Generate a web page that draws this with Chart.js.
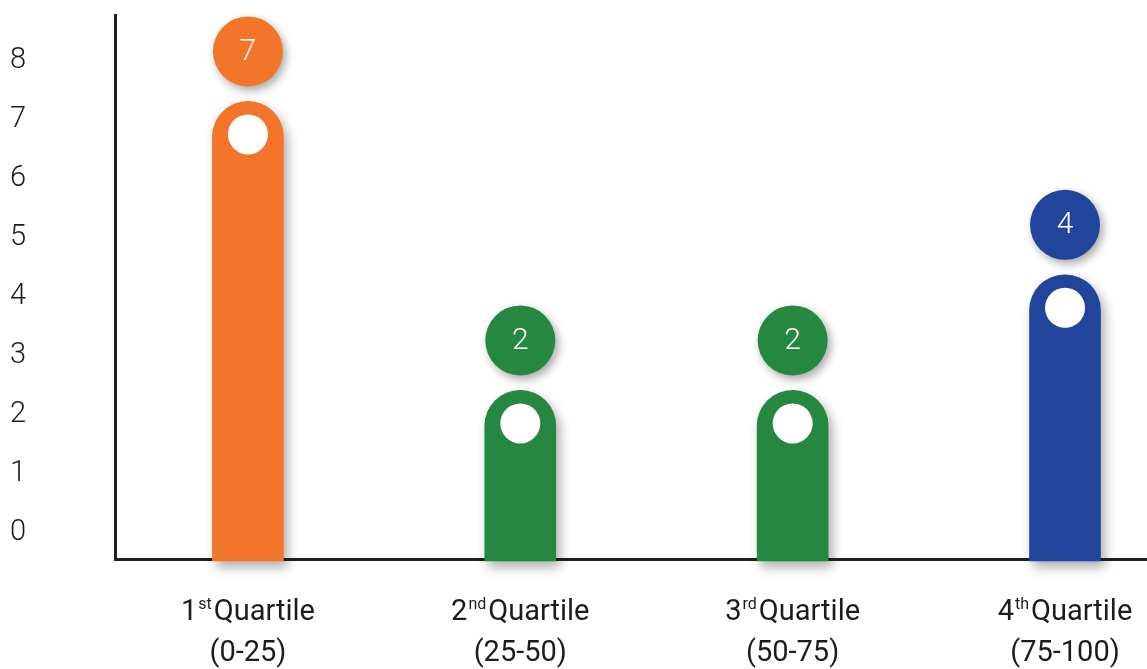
<!DOCTYPE html>
<html>
<head>
<meta charset="utf-8">
<script src="https://cdn.jsdelivr.net/npm/chart.js@4.4.1/dist/chart.umd.min.js"></script>
<style>
  html, body { margin: 0; padding: 0; background: #fff; }
  #wrap { width: 1147px; height: 669px; }
</style>
</head>
<body>
<div id="wrap"><canvas id="myChart"></canvas></div>
<script>
// data
const quartileNums = ['1', '2', '3', '4'];
const quartileSuffixes = ['st', 'nd', 'rd', 'th'];
const quartileRanges = ['(0-25)', '(25-50)', '(50-75)', '(75-100)'];
const counts = [7, 2, 2, 4];
const barColors = ['#F37529', '#268840', '#268840', '#22459C'];
const yTicks = [0, 1, 2, 3, 4, 5, 6, 7, 8];

const FONT = 'Roboto, "Open Sans", sans-serif';
const TEXT = '#1c1c1c';

// soft drop shadow under the bars
const barShadow = {
  id: 'barShadow',
  beforeDatasetDraw(chart) {
    const ctx = chart.ctx;
    ctx.save();
    ctx.shadowColor = 'rgba(0,0,0,0.32)';
    ctx.shadowBlur = 12;
    ctx.shadowOffsetX = 4;
    ctx.shadowOffsetY = 6;
  },
  afterDatasetDraw(chart) {
    chart.ctx.restore();
  }
};

// white dot in the bar cap + value bubble above it
const bubbles = {
  id: 'bubbles',
  afterDatasetsDraw(chart) {
    const ctx = chart.ctx;
    const meta = chart.getDatasetMeta(0);
    meta.data.forEach((bar, i) => {
      ctx.save();
      ctx.fillStyle = '#fff';
      ctx.beginPath();
      ctx.arc(bar.x, bar.y + 33, 20, 0, Math.PI * 2);
      ctx.fill();

      ctx.shadowColor = 'rgba(0,0,0,0.35)';
      ctx.shadowBlur = 10;
      ctx.shadowOffsetX = 3;
      ctx.shadowOffsetY = 4;
      ctx.fillStyle = barColors[i];
      ctx.beginPath();
      ctx.arc(bar.x, bar.y - 50, 35, 0, Math.PI * 2);
      ctx.fill();
      ctx.restore();

      ctx.save();
      ctx.fillStyle = '#fff';
      ctx.font = '300 30px ' + FONT;
      ctx.textAlign = 'center';
      ctx.textBaseline = 'middle';
      ctx.fillText(String(counts[i]), bar.x, bar.y - 49);
      ctx.restore();
    });
  }
};

// category labels with superscript ordinals
const quartileLabels = {
  id: 'quartileLabels',
  afterDraw(chart) {
    const ctx = chart.ctx;
    const xs = chart.scales.x;
    const big = '400 29px ' + FONT;
    const small = '400 16px ' + FONT;
    ctx.save();
    ctx.fillStyle = TEXT;
    ctx.textBaseline = 'alphabetic';
    ctx.textAlign = 'left';
    quartileNums.forEach((n, i) => {
      const cx = xs.getPixelForValue(i);
      ctx.font = big;
      const wNum = ctx.measureText(n).width;
      const wQ = ctx.measureText('Quartile').width;
      ctx.font = small;
      const wSup = ctx.measureText(quartileSuffixes[i]).width;
      const gap = 3;
      const total = wNum + wSup + gap + wQ;
      let x = cx - total / 2;
      const base1 = 620;
      ctx.font = big;
      ctx.fillText(n, x, base1);
      x += wNum;
      ctx.font = small;
      ctx.fillText(quartileSuffixes[i], x + 1, base1 - 11);
      x += wSup + gap;
      ctx.font = big;
      ctx.fillText('Quartile', x, base1);

      ctx.textAlign = 'center';
      ctx.fillText(quartileRanges[i], cx, 661);
      ctx.textAlign = 'left';
    });
    ctx.restore();
  }
};

const data = {
  datasets: [{
    data: counts.map((v, i) => ({ x: i, y: v })),
    backgroundColor: barColors,
    borderWidth: 0,
    borderRadius: { topLeft: 36, topRight: 36, bottomLeft: 0, bottomRight: 0 },
    borderSkipped: 'bottom',
    barThickness: 71,
    base: -0.95,
    yAxisID: 'yb',
    clip: false
  }]
};

const config = {
  type: 'bar',
  data,
  plugins: [barShadow, bubbles, quartileLabels],
  options: {
    responsive: true,
    maintainAspectRatio: false,
    animation: false,
    layout: { padding: { left: 0, top: 15, right: 0, bottom: 110 } },
    plugins: {
      legend: { display: false },
      tooltip: { enabled: false }
    },
    scales: {
      x: {
        type: 'linear',
        offset: false,
        min: -0.488,
        max: 3.301,
        grid: { display: false, drawTicks: false },
        border: { display: true, color: '#231f20', width: 3 },
        ticks: { display: false },
        afterFit: s => { s.height = 0; s.paddingLeft = 0; s.paddingRight = 0; }
      },
      y: {
        position: 'left',
        min: -0.44,
        max: 8.78,
        afterBuildTicks: s => { s.ticks = yTicks.map(v => ({ value: v })); },
        afterFit: s => { s.width = 115; s.paddingTop = 0; s.paddingBottom = 0; },
        grid: { display: false, drawTicks: false },
        border: { display: true, color: '#231f20', width: 3 },
        ticks: {
          padding: 89,
          color: TEXT,
          font: { family: FONT, size: 29, weight: '300' }
        }
      },
      yb: {
        display: false,
        min: -0.917,
        max: 8.495
      }
    }
  }
};

const myChart = new Chart(document.getElementById('myChart'), config);
</script>
</body>
</html>
